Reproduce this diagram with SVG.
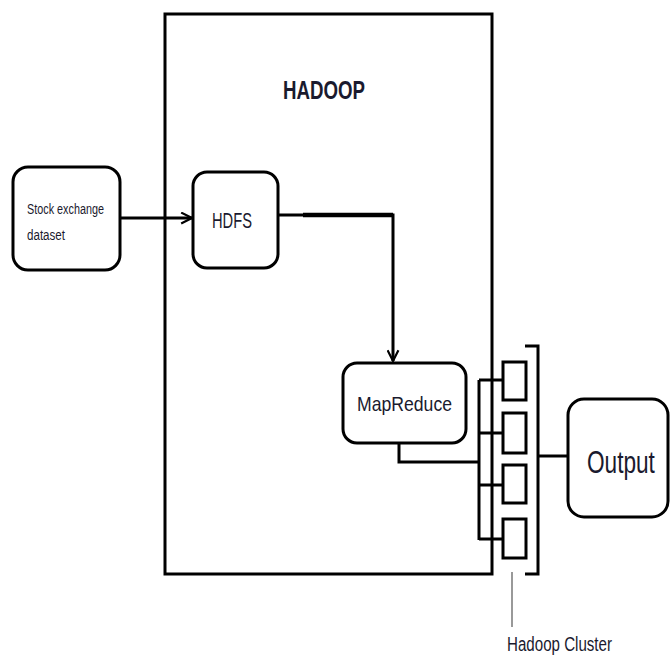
<svg xmlns="http://www.w3.org/2000/svg" width="670" height="655" viewBox="0 0 670 655">
<style>
.box{fill:#fff;stroke:#000;stroke-width:3}
.ln{fill:none;stroke:#000;stroke-width:3}
.t{font-family:"Liberation Sans",Arial,sans-serif;fill:#1a1a2e}
</style>
<defs>
<marker id="arr" viewBox="0 0 12 12" refX="11" refY="6" markerWidth="13" markerHeight="13" markerUnits="userSpaceOnUse" orient="auto">
<path d="M1,1 L11,6 L1,11" fill="none" stroke="#000" stroke-width="2"/>
</marker>
</defs>
<rect width="670" height="655" fill="#fff"/>
<g id="hadoop">
<rect x="165" y="14" width="327" height="560" fill="#fff" stroke="#000" stroke-width="3"/>
<text x="283" y="99" class="t" font-size="25" font-weight="bold" fill="#000" textLength="82" lengthAdjust="spacingAndGlyphs">HADOOP</text>
</g>
<g id="stock">
<rect class="box" x="13" y="167" width="107" height="103" rx="15"/>
<text class="t" x="27" y="214" font-size="14" textLength="77" lengthAdjust="spacingAndGlyphs">Stock exchange</text>
<text class="t" x="27" y="240" font-size="14" textLength="38" lengthAdjust="spacingAndGlyphs">dataset</text>
</g>
<g id="hdfs">
<rect class="box" x="193" y="172" width="85" height="96" rx="14"/>
<text class="t" x="212" y="228" font-size="22" textLength="40" lengthAdjust="spacingAndGlyphs">HDFS</text>
</g>
<g id="mapreduce">
<rect class="box" x="343" y="363" width="123" height="80" rx="14"/>
<text class="t" x="357" y="411" font-size="21" textLength="95" lengthAdjust="spacingAndGlyphs">MapReduce</text>
</g>
<g id="cluster">
<rect class="box" x="503" y="362" width="23" height="38"/>
<rect class="box" x="503" y="413" width="23" height="40"/>
<rect class="box" x="503" y="465" width="23" height="38"/>
<rect class="box" x="503" y="519" width="23" height="39"/>
<path class="ln" d="M525,346 H538 V574 H525"/>
<line x1="512" y1="572" x2="512" y2="627" stroke="#777" stroke-width="1.5"/>
<text class="t" x="507" y="651" font-size="20" textLength="105" lengthAdjust="spacingAndGlyphs">Hadoop Cluster</text>
</g>
<g id="output">
<rect class="box" x="568" y="399" width="100" height="118" rx="16"/>
<text class="t" transform="translate(587,473) scale(0.73,1)" x="0" y="0" font-size="31" fill="#000">Output</text>
</g>
<g id="connectors">
<line class="ln" x1="120" y1="218" x2="192" y2="218" marker-end="url(#arr)"/>
<path d="M278,215 H393 V361" fill="none" stroke="#000" stroke-width="3" marker-end="url(#arr)"/>
<path d="M303,215 H393" fill="none" stroke="#000" stroke-width="4.5"/>
<path class="ln" d="M399,443 V462 H479"/>
<path class="ln" d="M479,380 V540"/>
<path class="ln" d="M479,380 H503 M479,433 H503 M479,485 H503 M479,539 H503"/>
<line class="ln" x1="538" y1="456" x2="568" y2="456"/>
</g>
</svg>
